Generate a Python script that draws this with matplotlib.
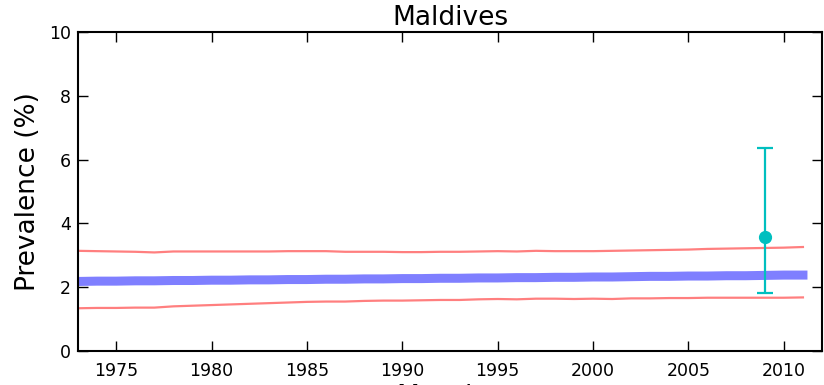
"""Prevalence trend with uncertainty band and one survey point (Maldives)."""

import matplotlib
matplotlib.use("Agg")
import matplotlib.pyplot as plt

COUNTRY = "Maldives"

YEARS = list(range(1973, 2012))
MEAN = [2.18, 2.19, 2.19, 2.20, 2.20, 2.21, 2.21, 2.22, 2.22, 2.23,
        2.23, 2.24, 2.24, 2.25, 2.25, 2.26, 2.26, 2.27, 2.27, 2.28,
        2.28, 2.29, 2.29, 2.30, 2.30, 2.31, 2.31, 2.32, 2.32, 2.33,
        2.34, 2.34, 2.35, 2.35, 2.36, 2.36, 2.37, 2.38, 2.38]
UPPER = [3.14, 3.13, 3.12, 3.11, 3.09, 3.12, 3.12, 3.12, 3.12, 3.12,
         3.12, 3.13, 3.13, 3.13, 3.11, 3.11, 3.11, 3.10, 3.10, 3.11,
         3.11, 3.12, 3.13, 3.12, 3.14, 3.13, 3.13, 3.13, 3.14, 3.15,
         3.16, 3.17, 3.18, 3.20, 3.21, 3.22, 3.23, 3.24, 3.26]
LOWER = [1.34, 1.35, 1.35, 1.36, 1.36, 1.40, 1.42, 1.44, 1.46, 1.48,
         1.50, 1.52, 1.54, 1.55, 1.55, 1.57, 1.58, 1.58, 1.59, 1.60,
         1.60, 1.62, 1.63, 1.62, 1.64, 1.64, 1.63, 1.64, 1.63, 1.65,
         1.65, 1.66, 1.66, 1.67, 1.67, 1.67, 1.67, 1.67, 1.68]

SURVEY_YEAR = [2009]
SURVEY_VALUE = [3.56]
SURVEY_LOW = [1.81]
SURVEY_HIGH = [6.35]

fig = plt.figure(figsize=(8.24, 3.85), dpi=100)
ax = fig.add_axes([0.0947, 0.0883, 0.9029, 0.8286])

ax.plot(YEARS, MEAN, color="blue", alpha=0.5, linewidth=6.5)
ax.plot(YEARS, UPPER, color="red", alpha=0.5, linewidth=1.6)
ax.plot(YEARS, LOWER, color="red", alpha=0.5, linewidth=1.6)

err_low = [v - lo for v, lo in zip(SURVEY_VALUE, SURVEY_LOW)]
err_high = [hi - v for v, hi in zip(SURVEY_VALUE, SURVEY_HIGH)]
ax.errorbar(SURVEY_YEAR, SURVEY_VALUE, yerr=[err_low, err_high], fmt="o",
            color="c", markersize=8.5, elinewidth=1.6, capsize=6, capthick=1.6)

ax.set_xlim(1973, 2012)
ax.set_ylim(0, 10)
ax.set_xticks(range(1975, 2011, 5))
ax.set_yticks(range(0, 11, 2))
ax.tick_params(direction="in", length=7, width=1, top=True, right=True,
               labelsize=12.5, pad=5)
ax.tick_params(axis="x", pad=8)
for spine in ax.spines.values():
    spine.set_linewidth(1.5)

ax.set_title(COUNTRY, fontsize=19, pad=5)
ax.set_ylabel("Prevalence (%)", fontsize=19, labelpad=6)
ax.set_xlabel("Measles", fontsize=19, labelpad=3)

fig.savefig("out.png", dpi=100)
